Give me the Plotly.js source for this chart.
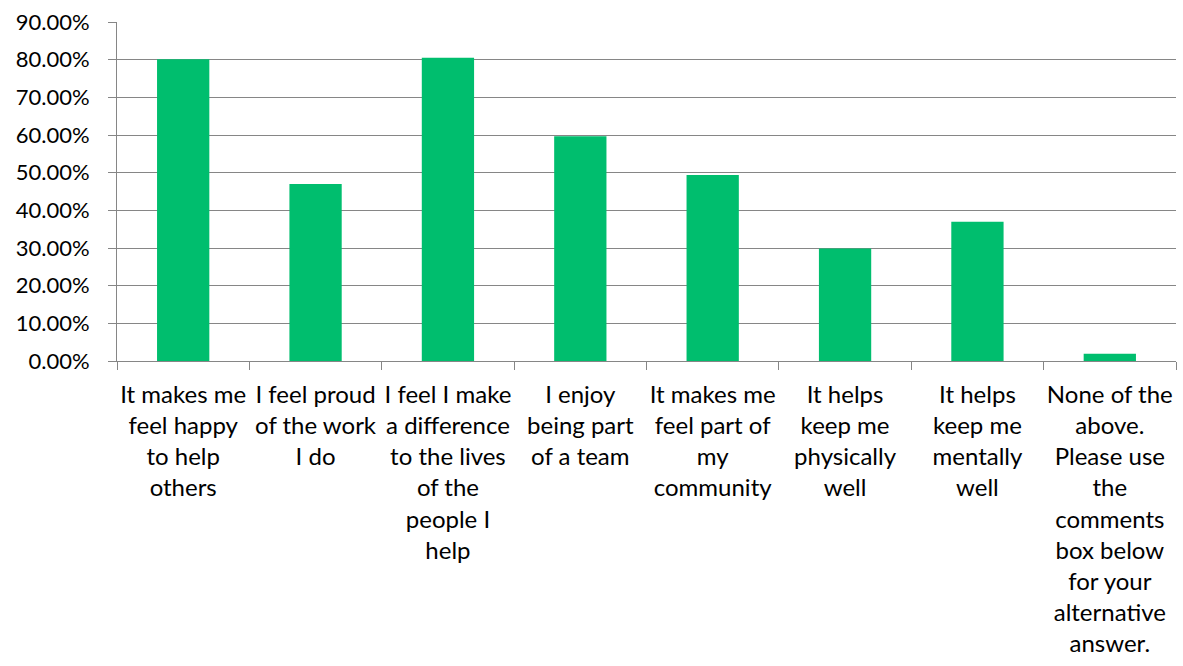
<!DOCTYPE html>
<html>
<head>
<meta charset="utf-8">
<script src="https://cdn.plot.ly/plotly-3.0.1.min.js"></script>
<style>html,body{margin:0;padding:0;background:#fff;}#chart{width:1183px;height:666px;}</style>
</head>
<body>
<div id="chart"></div>
<script>
const categories = [
  "It makes me feel happy to help others",
  "I feel proud of the work I do",
  "I feel I make a difference to the lives of the people I help",
  "I enjoy being part of a team",
  "It makes me feel part of my community",
  "It helps keep me physically well",
  "It helps keep me mentally well",
  "None of the above. Please use the comments box below for your alternative answer."
];
const tickLabels = [
  "It makes me<br>feel happy<br>to help<br>others",
  "I feel proud<br>of the work<br>I do",
  "I feel I make<br>a difference<br>to the lives<br>of the<br>people I<br>help",
  "I enjoy<br>being part<br>of a team",
  "It makes me<br>feel part of<br>my<br>community",
  "It helps<br>keep me<br>physically<br>well",
  "It helps<br>keep me<br>mentally<br>well",
  "None of the<br>above.<br>Please use<br>the<br>comments<br>box below<br>for your<br>alternative<br>answer."
];
const values = [0.801, 0.470, 0.805, 0.597, 0.494, 0.299, 0.370, 0.019];
const yTicks = [0, 0.1, 0.2, 0.3, 0.4, 0.5, 0.6, 0.7, 0.8, 0.9];

const xfont = {family: "Lato, 'Open Sans', sans-serif", size: 24, color: "#000000"};
const yfont = {family: "Lato, 'Open Sans', sans-serif", size: 22, color: "#000000"};

Plotly.newPlot("chart", [{
  type: "bar",
  x: categories,
  y: values,
  marker: {color: "#00BE6E", line: {width: 0}},
  hoverinfo: "none"
}], {
  width: 1183, height: 666,
  margin: {l: 117, r: 7, t: 22, b: 305},
  paper_bgcolor: "#ffffff",
  plot_bgcolor: "#ffffff",
  bargap: 0.605,
  showlegend: false,
  font: xfont,
  xaxis: {
    type: "category",
    tickmode: "array",
    tickvals: categories,
    ticktext: tickLabels,
    tickson: "boundaries",
    ticks: "outside",
    ticklen: 8,
    tickcolor: "#868686",
    tickwidth: 1,
    showline: true,
    linecolor: "#868686",
    linewidth: 1,
    showgrid: false,
    tickangle: 0,
    tickfont: xfont,
    ticklabelstandoff: 12,
    automargin: false
  },
  yaxis: {
    range: [0, 0.9],
    tickmode: "array",
    tickvals: yTicks,
    tickformat: ".2%",
    ticks: "outside",
    ticklen: 8,
    tickcolor: "#868686",
    showline: true,
    linecolor: "#868686",
    linewidth: 1,
    showgrid: true,
    gridcolor: "#868686",
    gridwidth: 1,
    zeroline: false,
    tickfont: yfont,
    ticklabelstandoff: 14,
    automargin: false
  }
}, {staticPlot: true, displayModeBar: false});
</script>
</body>
</html>
